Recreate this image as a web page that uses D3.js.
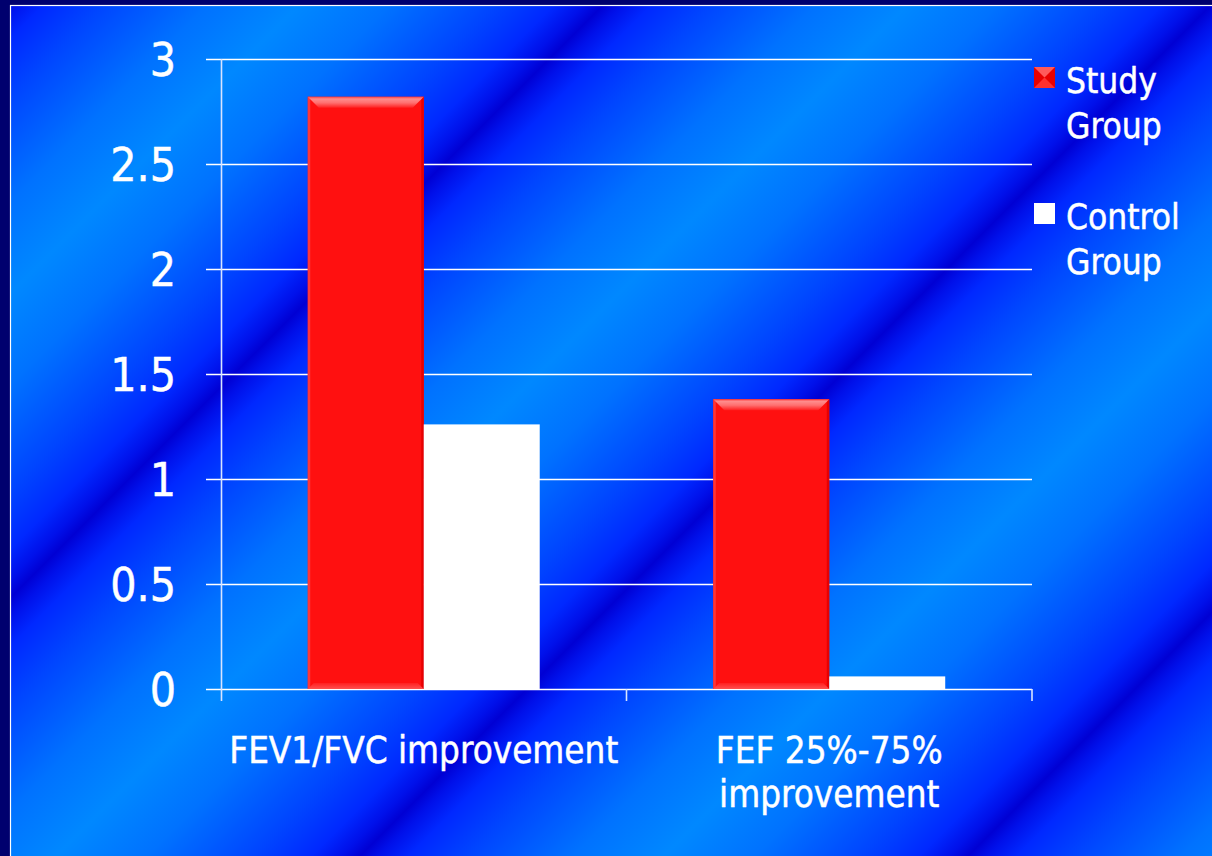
<!DOCTYPE html>
<html>
<head>
<meta charset="utf-8">
<script src="https://cdn.jsdelivr.net/npm/d3@7"></script>
<style>
  html, body { margin: 0; padding: 0; background: #00006e; overflow: hidden; }
  svg { display: block; }
  text { font-family: "DejaVu Sans Condensed", "DejaVu Sans", sans-serif; fill: #ffffff; stroke: #ffffff; stroke-width: 0.45px; }
</style>
</head>
<body>
<svg id="chart" width="1212" height="856"></svg>
<script>
// ---- data ----
const categories = ["FEV1/FVC improvement", "FEF 25%-75% improvement"];
const categoryLines = [["FEV1/FVC improvement"], ["FEF 25%-75%", "improvement"]];
const seriesNames = ["Study Group", "Control Group"];
const legendLines = [["Study", "Group"], ["Control", "Group"]];
const studyGroup = [2.82, 1.38];
const controlGroup = [1.26, 0.06];
const yTicks = [0, 0.5, 1, 1.5, 2, 2.5, 3];

// ---- layout ----
const W = 1212, H = 856;
const plot = { left: 221, right: 1032, top: 59, bottom: 689 };
const gridStart = 206;
const svg = d3.select("#chart");
const defs = svg.append("defs");

// diagonal striped blue backdrop
const bg = defs.append("linearGradient")
  .attr("id", "bgStripes")
  .attr("gradientUnits", "userSpaceOnUse")
  .attr("x1", 0).attr("y1", 0).attr("x2", 304).attr("y2", 304)
  .attr("spreadMethod", "repeat");
[[0, "#0000d4"], [0.03, "#0010ea"], [0.08, "#0028ff"], [0.18, "#0046ff"],
 [0.35, "#0072ff"], [0.5, "#0088ff"], [0.65, "#0072ff"], [0.82, "#0046ff"],
 [0.92, "#0028ff"], [0.97, "#0010ea"], [1, "#0000d4"]]
  .forEach(([o, c]) => bg.append("stop").attr("offset", o).attr("stop-color", c));

// bevel shading for the red bars
const topBevel = defs.append("linearGradient").attr("id", "topBevel")
  .attr("x1", 0).attr("y1", 0).attr("x2", 0).attr("y2", 1);
[[0, "#ff4040"], [0.2, "#ff8c8c"], [0.55, "#ff7070"], [1, "#ff2020"]]
  .forEach(([o, c]) => topBevel.append("stop").attr("offset", o).attr("stop-color", c));
const botBevel = defs.append("linearGradient").attr("id", "botBevel")
  .attr("x1", 0).attr("y1", 0).attr("x2", 0).attr("y2", 1);
[[0, "#ff2020"], [1, "#ff5050"]]
  .forEach(([o, c]) => botBevel.append("stop").attr("offset", o).attr("stop-color", c));

svg.append("rect").attr("width", W).attr("height", H).attr("fill", "#00006e");
svg.append("rect")
  .attr("x", 10.5).attr("y", 5.5).attr("width", W).attr("height", H)
  .attr("fill", "url(#bgStripes)")
  .attr("stroke", "#ffffff").attr("stroke-width", 1.2);

// ---- scales ----
const y = d3.scaleLinear().domain([0, 3]).range([plot.bottom, plot.top]);
const x0 = d3.scaleBand().domain(categories).range([plot.left, plot.right])
  .paddingInner(0.428).paddingOuter(0.214);
const x1 = d3.scaleBand().domain(seriesNames).range([0, x0.bandwidth()]);
const colors = { "Study Group": "#ff1010", "Control Group": "#ffffff" };

// ---- gridlines + y axis labels ----
const yAxis = d3.axisLeft(y).tickValues(yTicks)
  .tickSizeInner(-(plot.right - gridStart)).tickSizeOuter(0).tickPadding(30)
  .tickFormat(d3.format("~g"));
const gy = svg.append("g").attr("transform", `translate(${gridStart},0)`).call(yAxis);
gy.select(".domain").remove();
gy.selectAll(".tick line").attr("stroke", "#ffffff").attr("stroke-width", 1.6);
gy.selectAll(".tick text")
  .attr("fill", "#ffffff").attr("font-size", 46)
  .attr("font-family", "\"DejaVu Sans Condensed\", \"DejaVu Sans\", sans-serif")
  .attr("dy", "0.36em");

// vertical axis line
svg.append("line")
  .attr("x1", plot.left + 0.5).attr("x2", plot.left + 0.5)
  .attr("y1", plot.top).attr("y2", plot.bottom + 12)
  .attr("stroke", "#d8e4ff").attr("stroke-width", 1.6);

// category separator ticks below the baseline
const boundaries = d3.range(categories.length + 1).map(i => plot.left + i * x0.step());
svg.selectAll("line.sep").data(boundaries.slice(1)).join("line")
  .attr("class", "sep")
  .attr("x1", d => d).attr("x2", d => d)
  .attr("y1", plot.bottom).attr("y2", plot.bottom + 12)
  .attr("stroke", "#d8e4ff").attr("stroke-width", 1.6);

// ---- bars ----
function bevelBar(g, x, yTop, w, h) {
  const t = Math.min(11, h / 2), b = Math.min(6, h / 2), s = 2.5;
  g.append("rect").attr("x", x).attr("y", yTop).attr("width", w).attr("height", h)
    .attr("fill", colors["Study Group"]);
  g.append("rect").attr("x", x).attr("y", yTop).attr("width", s).attr("height", h)
    .attr("fill", "#ff3636");
  g.append("rect").attr("x", x + w - s).attr("y", yTop).attr("width", s).attr("height", h)
    .attr("fill", "#e80000");
  g.append("polygon")
    .attr("points", [[x, yTop], [x + w, yTop], [x + w - t, yTop + t], [x + t, yTop + t]].join(" "))
    .attr("fill", "url(#topBevel)");
  g.append("polygon")
    .attr("points", [[x, yTop + h], [x + w, yTop + h], [x + w - b, yTop + h - b], [x + b, yTop + h - b]].join(" "))
    .attr("fill", "url(#botBevel)");
}

const barsG = svg.append("g");
categories.forEach((c, i) => {
  const vals = { "Study Group": studyGroup[i], "Control Group": controlGroup[i] };
  seriesNames.forEach(sName => {
    const bx = x0(c) + x1(sName), bw = x1.bandwidth();
    const by = y(vals[sName]), bh = y(0) - y(vals[sName]);
    if (sName === "Study Group") {
      bevelBar(barsG.append("g"), bx, by, bw, bh);
    } else {
      barsG.append("rect").attr("x", bx).attr("y", by).attr("width", bw).attr("height", bh)
        .attr("fill", colors[sName]);
    }
  });
});

// ---- category labels ----
const catG = svg.append("g");
categories.forEach((c, i) => {
  const t = catG.append("text")
    .attr("x", x0(c) + x0.bandwidth() / 2).attr("y", 763)
    .attr("text-anchor", "middle").attr("font-size", 36.5);
  categoryLines[i].forEach((line, k) => {
    t.append("tspan").attr("x", x0(c) + x0.bandwidth() / 2)
      .attr("dy", k === 0 ? 0 : 44).text(line);
  });
});

// ---- legend ----
const legend = svg.append("g");
const legendRows = [67, 203];
seriesNames.forEach((sName, i) => {
  const ly = legendRows[i];
  const sx = 1034, sz = 21;
  if (sName === "Study Group") {
    legend.append("rect").attr("x", sx).attr("y", ly).attr("width", sz).attr("height", sz)
      .attr("fill", "#e80000");
    legend.append("polygon")
      .attr("points", [[sx, ly], [sx + sz, ly], [sx + sz / 2, ly + sz / 2]].join(" "))
      .attr("fill", "#ff5a5a");
    legend.append("polygon")
      .attr("points", [[sx, ly + sz], [sx + sz, ly + sz], [sx + sz / 2, ly + sz / 2]].join(" "))
      .attr("fill", "#ff3030");
  } else {
    legend.append("rect").attr("x", sx).attr("y", ly).attr("width", sz).attr("height", sz)
      .attr("fill", colors[sName]);
  }
  const t = legend.append("text").attr("x", 1066).attr("y", ly + 26).attr("font-size", 35);
  legendLines[i].forEach((line, k) => {
    t.append("tspan").attr("x", 1066).attr("dy", k === 0 ? 0 : 45).text(line);
  });
});
</script>
</body>
</html>
